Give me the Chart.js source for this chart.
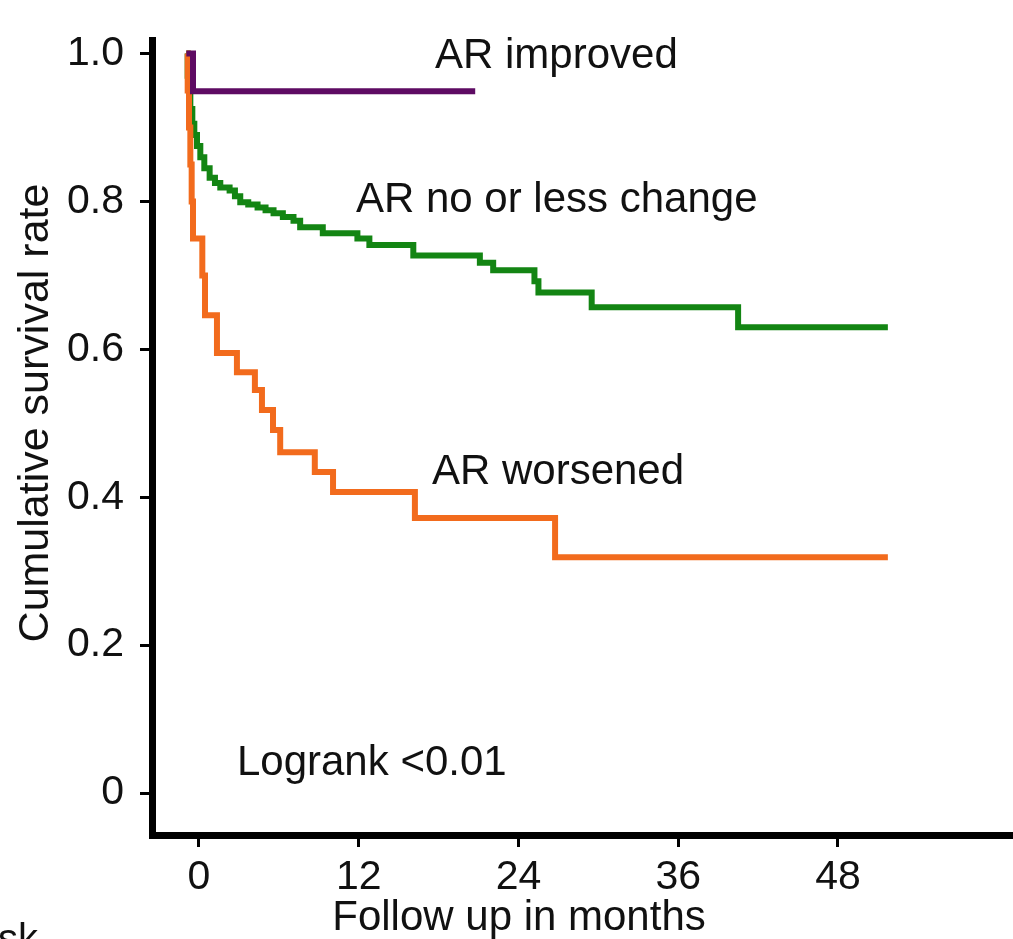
<!DOCTYPE html>
<html>
<head>
<meta charset="utf-8">
<script src="https://cdn.jsdelivr.net/npm/chart.js@4.4.1/dist/chart.umd.min.js"></script>
<style>
  body { margin: 0; background: #fff; }
  #wrap { width: 1013px; height: 939px; }
</style>
</head>
<body>
<div id="wrap"><canvas id="kmChart"></canvas></div>
<script>
const xTicks = [0, 12, 24, 36, 48];
const yTicks = [0, 0.2, 0.4, 0.6, 0.8, 1.0];

// AR improved
const improvedTime = [-0.95, -0.45, 20.75];
const improvedSurv = [1.0, 0.949, 0.949];

// AR no or less change
const unchangedTime = [-0.95, -0.85, -0.75, -0.65, -0.5, -0.35, -0.15, 0.1, 0.4, 0.8, 1.2, 1.6, 2.3, 2.7, 3.1, 3.7, 4.4, 5.0, 5.6, 6.3, 7.1, 7.6, 9.3, 11.9, 12.8, 16.1, 21.1, 22.1, 25.2, 25.5, 29.5, 40.5, 51.75];
const unchangedSurv = [1.0, 0.97, 0.945, 0.925, 0.905, 0.89, 0.875, 0.86, 0.845, 0.832, 0.825, 0.819, 0.815, 0.807, 0.799, 0.796, 0.792, 0.788, 0.784, 0.779, 0.774, 0.765, 0.757, 0.75, 0.741, 0.727, 0.717, 0.707, 0.692, 0.677, 0.657, 0.63, 0.63];

// AR worsened
const worsenedTime = [-0.95, -0.85, -0.75, -0.65, -0.55, -0.45, 0.25, 0.45, 1.35, 2.85, 4.2, 4.73, 5.56, 6.1, 8.7, 10.07, 16.22, 26.75, 51.75];
const worsenedSurv = [1.0, 0.95, 0.9, 0.85, 0.8, 0.75, 0.7, 0.646, 0.595, 0.569, 0.545, 0.518, 0.491, 0.461, 0.434, 0.407, 0.372, 0.319, 0.319];

const curveLabels = ["AR improved", "AR no or less change", "AR worsened", "Logrank <0.01"];
const labelMonth = [17.73, 11.79, 17.5, 2.85];
const labelRate = [0.981, 0.786, 0.4176, 0.0243];

const toPoints = (t, s) => t.map((v, i) => ({ x: v, y: s[i] }));

const labelPlugin = {
  id: "kmLabels",
  afterDraw: (chart) => {
    const { ctx } = chart;
    const { x, y } = chart.scales;
    ctx.save();
    ctx.fillStyle = "#111";
    ctx.textAlign = "left";
    ctx.textBaseline = "alphabetic";
    ctx.font = '42px "Liberation Sans", Arial, sans-serif';
    curveLabels.forEach((txt, i) => {
      ctx.fillText(txt, x.getPixelForValue(labelMonth[i]), y.getPixelForValue(labelRate[i]));
    });

    // axis titles
    ctx.font = '42px "Liberation Sans", Arial, sans-serif';
    ctx.textAlign = "center";
    ctx.fillText("Follow up in months", 519, 930);
    ctx.save();
    ctx.translate(48, 413);
    ctx.rotate(-Math.PI / 2);
    ctx.font = '43px "Liberation Sans", Arial, sans-serif';
    ctx.fillText("Cumulative survival rate", 0, 0);
    ctx.restore();

    // cut-off text from the figure below
    ctx.font = '40px "Liberation Sans", Arial, sans-serif';
    ctx.textAlign = "left";
    ctx.fillText("sk", -2, 952);
    ctx.restore();
  },
};

const lineStyle = {
  stepped: "before",
  pointRadius: 0,
  borderWidth: 6,
  borderCapStyle: "butt",
  borderJoinStyle: "miter",
  fill: false,
};

const ctx = document.getElementById("kmChart").getContext("2d");

const kmChart = new Chart(ctx, {
  type: "line",
  data: {
    datasets: [
      { label: "AR improved", data: toPoints(improvedTime, improvedSurv), borderColor: "#5e0b63", ...lineStyle },
      { label: "AR worsened", data: toPoints(worsenedTime, worsenedSurv), borderColor: "#f26b1d", ...lineStyle },
      { label: "AR no or less change", data: toPoints(unchangedTime, unchangedSurv), borderColor: "#138513", ...lineStyle },
    ],
  },
  options: {
    responsive: true,
    maintainAspectRatio: false,
    animation: false,
    layout: { padding: { top: 40, left: 0, right: 0, bottom: 0 } },
    plugins: {
      legend: { display: false },
      tooltip: { enabled: false },
    },
    scales: {
      x: {
        type: "linear",
        min: -3.53,
        max: 61.15,
        afterBuildTicks: (scale) => {
          scale.ticks = xTicks.map((v) => ({ value: v }));
        },
        afterFit: (scale) => {
          scale.height = 104;
        },
        border: { display: true, color: "#000", width: 7 },
        grid: { drawOnChartArea: false, drawTicks: true, tickLength: 12, tickWidth: 3, color: "#000" },
        ticks: {
          color: "#111",
          padding: 6,
          maxRotation: 0,
          font: { family: '"Liberation Sans", Arial, sans-serif', size: 41 },
        },
      },
      y: {
        type: "linear",
        min: -0.0568,
        max: 1.0176,
        afterBuildTicks: (scale) => {
          scale.ticks = yTicks.map((v) => ({ value: v }));
        },
        afterFit: (scale) => {
          scale.width = 152;
        },
        border: { display: true, color: "#000", width: 7 },
        grid: { drawOnChartArea: false, drawTicks: true, tickLength: 12, tickWidth: 3, color: "#000" },
        ticks: {
          color: "#111",
          padding: 16,
          font: { family: '"Liberation Sans", Arial, sans-serif', size: 41 },
          callback: (v) => (v === 0 ? "0" : v.toFixed(1)),
        },
      },
    },
  },
  plugins: [labelPlugin],
});
</script>
</body>
</html>
